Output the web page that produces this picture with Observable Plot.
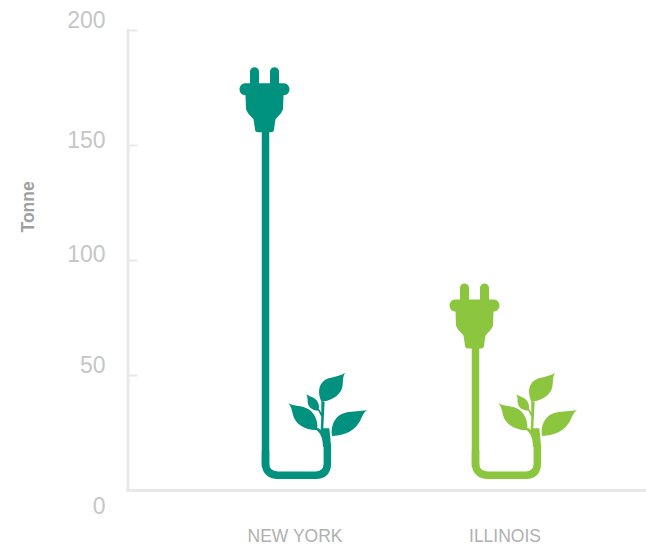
<!DOCTYPE html>
<html>
<head>
<meta charset="utf-8">
<script src="https://cdn.jsdelivr.net/npm/d3@7"></script>
<script src="https://cdn.jsdelivr.net/npm/@observablehq/plot@0.6"></script>
<style>
html,body{margin:0;padding:0;background:#fff}
svg{display:block}
</style>
</head>
<body>
<div id="chart"></div>
<script>
// Data
const states = ["NEW YORK", "ILLINOIS"];
const tonnes = [184, 90];
const colors = ["#00927e", "#8cc63f"];
const tickValues = [0, 50, 100, 150, 200];
const labelOffsets = [16, -10, -6, -4.5, -9.5];

const rows = states.map((state, i) => ({state, tonnes: tonnes[i], color: colors[i]}));

// Pictogram glyphs, drawn as custom dot symbols
function glyph(commands, ox, oy, s) {
  return {
    draw(ctx) {
      for (const [c, ...a] of commands) {
        const p = a.map((v, i) => (i % 2 ? v - oy : v - ox) * s);
        if (c === "M") ctx.moveTo(...p);
        else if (c === "L") ctx.lineTo(...p);
        else if (c === "C") ctx.bezierCurveTo(...p);
        else if (c === "Z") ctx.closePath();
      }
    }
  };
}
// plug: origin at top centre of the plug, pixel units
const plug = glyph([
  ["M",-15,4.5],["C",-15,1.5,-13,0,-10.5,0],["C",-8,0,-6,1.5,-6,4.5],["L",-6,16],
  ["L",5,16],["L",5,4.5],["C",5,1.5,7,0,9.5,0],["C",12,0,14,1.5,14,4.5],["L",14,16],
  ["L",19,16],["C",22,16,24.5,19,24.5,22],["C",24.5,25,22,28,19,28],["L",18.5,28],
  ["L",18,42],["L",16,46],["L",10.5,52],["L",9,62],["C",9,64,8,65,6,65],
  ["L",-7,65],["C",-9,65,-10,64,-10,62],["L",-11.5,52],["L",-17,46],["L",-19,42],
  ["L",-19.5,28],["L",-20,28],["C",-23,28,-25.5,25,-25.5,22],["C",-25.5,19,-23,16,-20,16],
  ["L",-15,16],["Z"]
], 0, 0, 1);
// plant: authored on a 3x grid, origin at the category's baseline
const plantOx = 136.5, plantOy = 390;
const plant = glyph([
  ["M",213,125],["C",200,95,205,65,235,55],["C",255,50,270,47,285,38],["C",275,50,280,70,275,85],["C",268,110,235,125,213,125],["Z"],
  ["M",205,152],["C",185,152,170,140,172,120],["C",172,112,170,108,168,103],["C",178,110,192,112,200,122],["C",207,132,207,142,205,152],["Z"],
  ["M",200,210],["C",170,212,135,195,128,165],["C",125,150,122,140,115,130],["C",130,140,155,135,175,148],["C",195,160,205,190,200,210],["Z"],
  ["M",245,228],["C",240,195,255,165,285,158],["C",310,152,330,155,350,150],["C",338,158,335,175,325,190],["C",305,220,270,228,245,228],["Z"],
  ["M",213,125],["L",223,125],["L",219,205],["L",237,205],["L",240,232],["L",242,260],["L",218,260],["C",218,238,212,218,197,209],["L",203,203],["L",211,210],["L",213,170],["L",203,150],["L",207,148],["L",213,158],["Z"]
], plantOx, plantOy, 1/3);
// cable bend
const bend = glyph([
  ["M",43.5,270],["L",43.5,310],["C",43.5,332,58,344,80,344],["L",195,344],["C",217,344,229,332,229,310],["L",229,250]
], plantOx, plantOy, 1/3);

const axisColor = "#e8e8e8";
const font = "'Liberation Sans', Helvetica, Arial, sans-serif";
const cordBase = 10;
const plugDepth = 15;

const chart = Plot.plot({
  width: 646,
  height: 549,
  marginLeft: 127.5,
  marginRight: 0,
  marginTop: 30,
  marginBottom: 59,
  style: {background: "#fff", fontFamily: font},
  x: {type: "point", domain: states, range: [295.5, 505.5], padding: 0, axis: null},
  y: {domain: [0, 200], axis: null},
  marks: [
    Plot.frame({anchor: "left", stroke: axisColor, strokeWidth: 3}),
    Plot.frame({anchor: "bottom", stroke: axisColor, strokeWidth: 3}),
    Plot.axisY({ticks: tickValues, tickSize: -10, text: null, label: null, stroke: axisColor, strokeWidth: 2, strokeOpacity: 1}),
    ...tickValues.map((t, i) => Plot.text([t], {
      y: d => d, text: d => String(d),
      frameAnchor: "left", textAnchor: "end", dx: -22.5, dy: labelOffsets[i],
      fontSize: 23, fill: "#c6c6c6"
    })),
    Plot.text(["Tonne"], {
      frameAnchor: "left", dx: -99.5, dy: -28, rotate: -90,
      fontSize: 17.5, fontWeight: "bold", fill: "#a0a0a0"
    }),
    Plot.axisX({domain: states, tickSize: 0, tickPadding: 39, fontSize: 17.5, dx: -1.5, color: "#b0b0b0", label: null, anchor: "bottom"}),
    Plot.ruleX(rows, {x: "state", y1: cordBase, y2: d => d.tonnes - plugDepth, dx: -31, stroke: "color", strokeWidth: 7.5}),
    Plot.dot(rows, {x: "state", y: 0, symbol: bend, r: 5, fill: "none", stroke: "color", strokeWidth: 7.5}),
    Plot.dot(rows, {x: "state", y: 0, dx: -0.7, dy: -0.5, symbol: plant, r: 5, fill: "color", stroke: "none"}),
    Plot.dot(rows, {x: "state", y: "tonnes", dx: -31.5, symbol: plug, r: 5, fill: "color", stroke: "none"})
  ]
});
document.getElementById("chart").append(chart);
</script>
</body>
</html>
